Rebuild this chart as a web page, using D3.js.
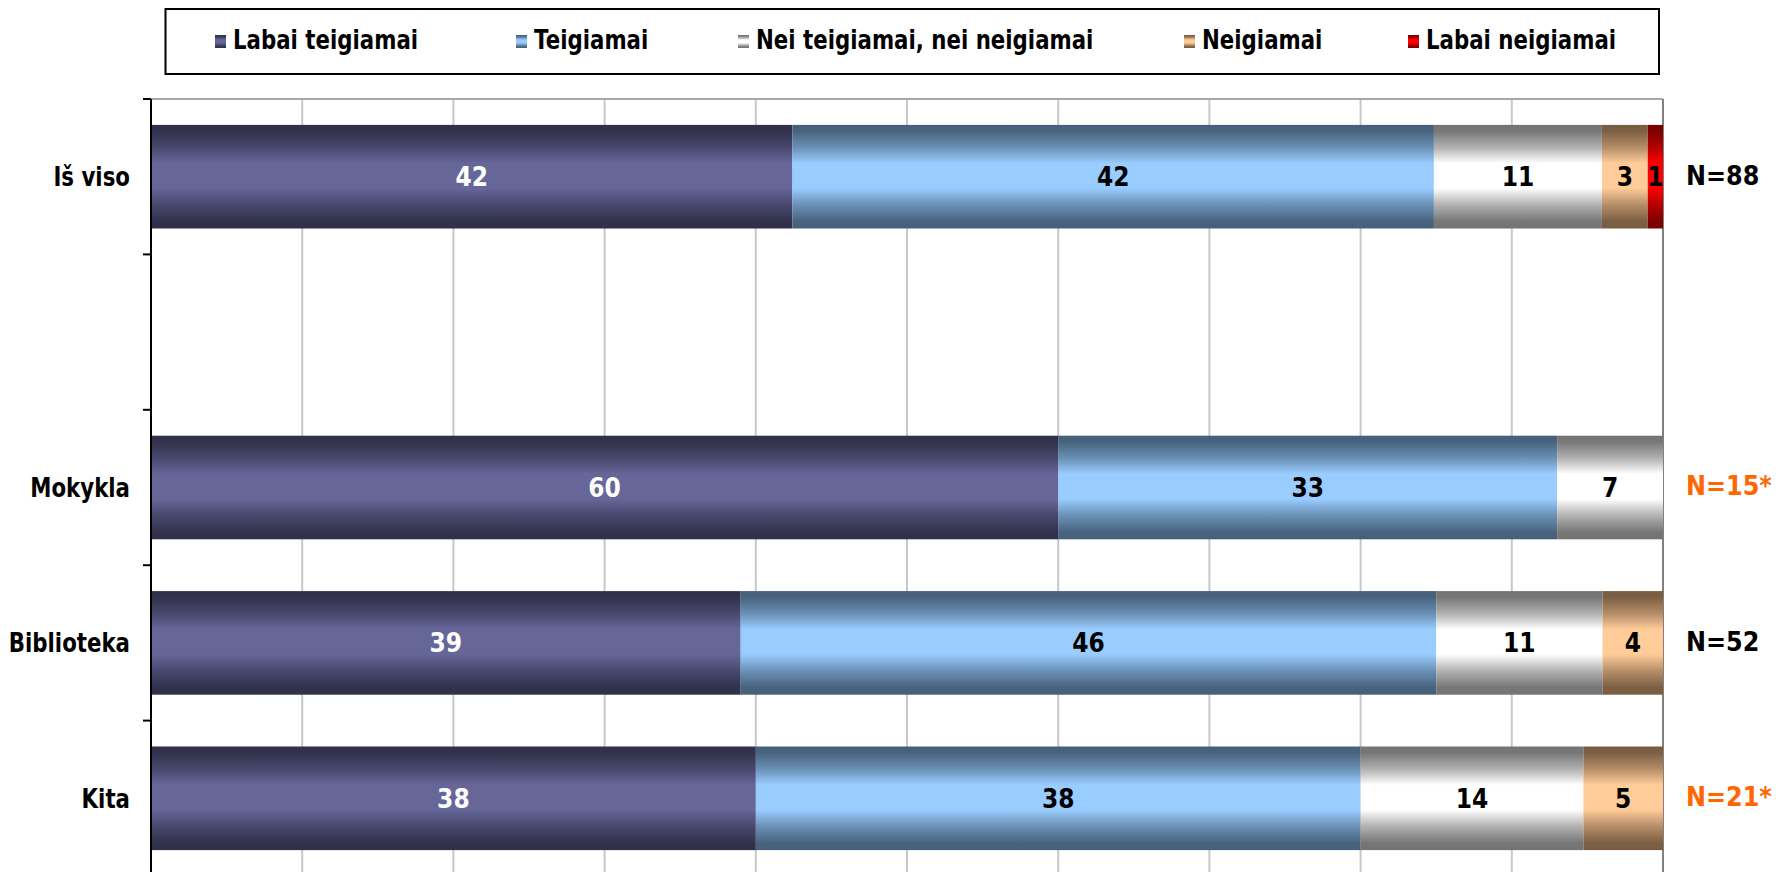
<!DOCTYPE html>
<html>
<head>
<meta charset="utf-8">
<script src="https://cdn.jsdelivr.net/npm/d3@7/dist/d3.min.js"></script>
<style>
body { margin: 0; background: #fff; }
text { font-family: "DejaVu Sans", sans-serif; font-weight: bold; }
</style>
</head>
<body>
<script>
// categories (empty row between "Iš viso" and the rest)
var categories = ["Iš viso", "", "Mokykla", "Biblioteka", "Kita"];
var seriesNames = ["Labai teigiamai", "Teigiamai", "Nei teigiamai, nei neigiamai", "Neigiamai", "Labai neigiamai"];

var labaiTeigiamai = [42, 0, 60, 39, 38];
var teigiamai      = [42, 0, 33, 46, 38];
var neiNei         = [11, 0, 7, 11, 14];
var neigiamai      = [3, 0, 0, 4, 5];
var labaiNeigiamai = [1, 0, 0, 0, 0];

var nLabels = ["N=88", "", "N=15*", "N=52", "N=21*"];

// edge colour / middle colour of each gradient
var colors = [
  ["#30304a", "#666699"],
  ["#46607a", "#99ccff"],
  ["#737373", "#ffffff"],
  ["#795c41", "#ffcc99"],
  ["#7a0000", "#ff0000"]
];
var legendX = [215, 516, 738, 1184, 1408];
var squeeze = 0.82;

var rows = categories.map(function (c, i) {
  return {
    cat: c,
    s0: labaiTeigiamai[i], s1: teigiamai[i], s2: neiNei[i],
    s3: neigiamai[i], s4: labaiNeigiamai[i]
  };
});
var keys = ["s0", "s1", "s2", "s3", "s4"];

var W = 1790, H = 872;
var svg = d3.select("body").append("svg").attr("width", W).attr("height", H);

var defs = svg.append("defs");
colors.forEach(function (c, i) {
  var mix = d3.interpolateRgb(c[0], c[1]);
  var g = defs.append("linearGradient").attr("id", "g" + i)
    .attr("x1", 0).attr("y1", 0).attr("x2", 0).attr("y2", 1);
  [[0, 0], [0.06, 0.03], [0.22, 0.45], [0.37, 1], [0.61, 1], [0.77, 0.45], [0.93, 0.03], [1, 0]]
    .forEach(function (s) {
      g.append("stop").attr("offset", s[0]).attr("stop-color", mix(s[1]));
    });
});

var x = d3.scaleLinear().domain([0, 1]).range([151, 1663]);
var y = d3.scaleBand().domain(categories).range([99, 876])
  .paddingInner(1 / 3).paddingOuter(1 / 6);

// gridlines
svg.append("g").selectAll("line")
  .data(x.ticks(10).filter(function (t) { return t > 0 && t < 1; }))
  .join("line")
  .attr("x1", function (d) { return x(d); }).attr("x2", function (d) { return x(d); })
  .attr("y1", 99).attr("y2", H + 10)
  .attr("stroke", "#c8c8c8").attr("stroke-width", 2);

svg.append("line").attr("x1", x(0)).attr("x2", x(1)).attr("y1", 99).attr("y2", 99)
  .attr("stroke", "#a8a8a8").attr("stroke-width", 2);
svg.append("line").attr("x1", x(1)).attr("x2", x(1)).attr("y1", 99).attr("y2", H + 10)
  .attr("stroke", "#808080").attr("stroke-width", 2);

var stack = d3.stack().keys(keys).offset(d3.stackOffsetExpand)(rows);

var layers = svg.append("g").selectAll("g").data(stack).join("g")
  .attr("fill", function (d, i) { return "url(#g" + i + ")"; });

layers.selectAll("rect")
  .data(function (d) { return d.filter(function (p) { return p[1] - p[0] > 0; }); })
  .join("rect")
  .attr("x", function (d) { return x(d[0]); })
  .attr("width", function (d) { return x(d[1]) - x(d[0]); })
  .attr("y", function (d) { return y(d.data.cat); })
  .attr("height", y.bandwidth());

// value labels
stack.forEach(function (layer, i) {
  layer.forEach(function (p) {
    if (p[1] - p[0] <= 0) return;
    var cx = (x(p[0]) + x(p[1])) / 2;
    var cy = y(p.data.cat) + y.bandwidth() / 2;
    svg.append("text")
      .attr("transform", "translate(" + cx + "," + cy + ") scale(0.9,1)")
      .attr("text-anchor", "middle").attr("dy", "0.36em")
      .attr("font-size", 26)
      .attr("fill", i === 0 ? "#fff" : "#000")
      .text(p.data[keys[i]]);
  });
});

// y axis
svg.append("line").attr("x1", 151).attr("x2", 151).attr("y1", 99).attr("y2", H + 10)
  .attr("stroke", "#000").attr("stroke-width", 2);
svg.append("g").selectAll("line")
  .data(d3.range(categories.length + 1))
  .join("line")
  .attr("x1", 143).attr("x2", 151)
  .attr("y1", function (i) { return y.range()[0] + i * y.step(); })
  .attr("y2", function (i) { return y.range()[0] + i * y.step(); })
  .attr("stroke", "#000").attr("stroke-width", 2);

categories.forEach(function (c) {
  if (!c) return;
  var cy = y(c) + y.bandwidth() / 2;
  svg.append("text")
    .attr("transform", "translate(130," + cy + ") scale(" + squeeze + ",1)")
    .attr("text-anchor", "end").attr("dy", "0.36em")
    .attr("font-size", 26).attr("fill", "#000")
    .text(c);
});

// N labels, small samples marked with * in orange
nLabels.forEach(function (n, i) {
  if (!n) return;
  var cy = y(categories[i]) + y.bandwidth() / 2;
  svg.append("text")
    .attr("transform", "translate(1686," + cy + ") scale(0.92,1)")
    .attr("dy", "0.3em")
    .attr("font-size", 26)
    .attr("fill", n.indexOf("*") >= 0 ? "#ff6600" : "#000")
    .text(n);
});

// legend
svg.append("rect").attr("x", 165.5).attr("y", 9).attr("width", 1493.5).attr("height", 65)
  .attr("fill", "#fff").attr("stroke", "#000").attr("stroke-width", 2);

seriesNames.forEach(function (name, i) {
  svg.append("rect").attr("x", legendX[i]).attr("y", 35).attr("width", 11).attr("height", 13)
    .attr("fill", "url(#g" + i + ")");
  svg.append("text")
    .attr("transform", "translate(" + (legendX[i] + 18) + ",49) scale(" + squeeze + ",1)")
    .attr("font-size", 26).attr("fill", "#000")
    .text(name);
});
</script>
</body>
</html>
